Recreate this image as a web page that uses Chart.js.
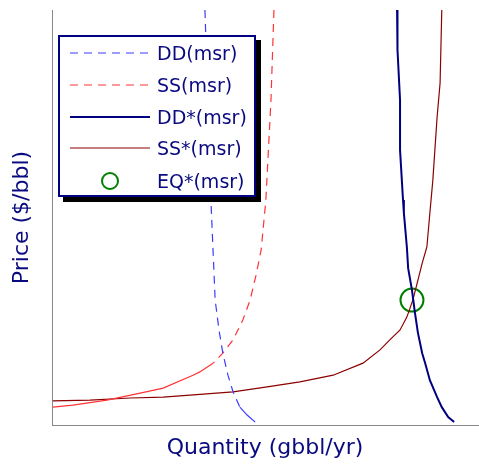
<!DOCTYPE html>
<html>
<head>
<meta charset="utf-8">
<script src="https://cdn.jsdelivr.net/npm/chart.js@4"></script>
<style>
  html, body { margin: 0; padding: 0; background: #fff; }
  #wrap { position: relative; width: 479px; height: 466px; }
  #legend {
    position: absolute; left: 58px; top: 35px; width: 194px; height: 158px;
    border: 2px solid #000080; background: #fff; box-shadow: 5px 5px 0 #000;
    font-family: "DejaVu Sans", sans-serif; font-size: 19px; color: #0a0a80;
  }
  .row { position: absolute; left: 0; height: 32px; width: 194px; }
  .row .txt { position: absolute; left: 97px; top: 50%; transform: translateY(-50%); white-space: nowrap; line-height: 1; }
  .row svg { position: absolute; left: 10px; top: 0; }
</style>
</head>
<body>
<div id="wrap">
  <canvas id="c" width="479" height="466"></canvas>
  <div id="legend"></div>
</div>
<script>
// Data (Quantity index 0-100, Price index 0-100)
const ddQ = [35.9, 36.6, 37.3, 38.3, 39.2, 40.1, 41.3, 42.5, 44.1, 45.8, 47.7];
const ddP = [100, 78.3, 54.2, 30.1, 22.9, 17.3, 12.0, 8.0, 4.3, 2.4, 0.7];

const ssQ = [52.1, 51.4, 50.2, 49.1, 47.9, 46.5, 44.8, 42.5, 40.1, 37.8, 34.7, 33.1, 26.1, 20.7, 12.9, 4.9, 0.2];
const ssP = [100, 78.3, 54.2, 42.2, 36.1, 30.1, 25.3, 20.5, 17.3, 14.9, 12.8, 12.0, 8.9, 7.7, 6.0, 4.8, 4.3];

const ddStarQ = [81.0, 81.0, 81.2, 81.7, 81.7, 82.4, 82.6, 83.3, 83.6, 84.5, 85.2, 85.9, 86.9, 87.6, 88.7, 90.4, 91.5, 93.0, 94.4];
const ddStarP = [100, 95.2, 90.4, 78.3, 66.3, 54.2, 51.1, 42.9, 37.8, 32.5, 27.0, 22.2, 17.3, 14.9, 10.8, 6.7, 4.3, 1.9, 0.7];

const ssStarQ = [91.5, 91.1, 90.4, 89.4, 88.7, 88.0, 86.9, 85.9, 84.7, 83.3, 81.7, 79.3, 77.0, 73.0, 66.0, 58.2, 50.5, 42.5, 32.4, 26.1, 18.3, 8.9, 0.2];
const ssStarP = [100, 82.4, 74.2, 59.0, 51.1, 42.9, 39.0, 34.9, 30.1, 26.0, 22.9, 20.5, 18.1, 14.9, 12.0, 10.4, 9.2, 8.0, 7.2, 6.7, 6.5, 6.0, 5.8];

const eqQ = [84.5];
const eqP = [30.1];

const seriesLabels = ["DD(msr)", "SS(msr)", "DD*(msr)", "SS*(msr)", "EQ*(msr)"];
const axisTitles = { x: "Quantity (gbbl/yr)", y: "Price ($/bbl)" };

const pts = (xs, ys) => xs.map((x, i) => ({ x: x, y: ys[i] }));
const TXT = '#0a0a80';
const FONT = "'DejaVu Sans', sans-serif";

// solidBelow: the dashed curves were drawn from dense points in the original, so their
// lower part looks solid; below this price the segment is drawn solid.
const styles = [
  { color: '#3c3cff', width: 1.2, dash: [8, 6], solidBelow: 7.5 },
  { color: '#ff3333', width: 1.2, dash: [8, 6], solidBelow: 16 },
  { color: '#000080', width: 2, dash: [] },
  { color: '#8b0000', width: 1.2, dash: [] },
  { color: '#008000', width: 2, dash: [], point: true }
];

const lineDs = (label, data, s) => {
  const ds = {
    label: label, data: data, showLine: true, borderColor: s.color, borderWidth: s.width,
    borderDash: s.dash, pointRadius: 0, pointHoverRadius: 0, fill: false, tension: 0
  };
  if (s.solidBelow !== undefined) {
    ds.segment = { borderDash: ctx => (ctx.p0.parsed.y < s.solidBelow ? [] : s.dash) };
  }
  return ds;
};

const chart = new Chart(document.getElementById('c'), {
  type: 'scatter',
  data: {
    datasets: [
      lineDs(seriesLabels[0], pts(ddQ, ddP), styles[0]),
      lineDs(seriesLabels[1], pts(ssQ, ssP), styles[1]),
      lineDs(seriesLabels[2], pts(ddStarQ, ddStarP), styles[2]),
      lineDs(seriesLabels[3], pts(ssStarQ, ssStarP), styles[3]),
      {
        label: seriesLabels[4], data: pts(eqQ, eqP), showLine: false,
        pointRadius: 11.5, pointBorderWidth: 2, pointBorderColor: '#008000',
        pointBackgroundColor: 'rgba(0,0,0,0)', pointHoverRadius: 11.5
      }
    ]
  },
  options: {
    responsive: false, animation: false, devicePixelRatio: 1,
    layout: { autoPadding: false, padding: { top: 10, right: 1, left: 0, bottom: 0 } },
    plugins: { legend: { display: false }, tooltip: { enabled: false } },
    scales: {
      x: {
        type: 'linear', min: 0, max: 100,
        grid: { display: false }, ticks: { display: false },
        border: { display: true, color: '#888', width: 1 },
        title: { display: true, text: axisTitles.x, color: TXT, font: { family: FONT, size: 22 }, padding: { top: 0, bottom: 5 } },
        afterFit: s => { s.height = 41; }
      },
      y: {
        type: 'linear', min: 0, max: 100,
        grid: { display: false }, ticks: { display: false },
        border: { display: true, color: '#888', width: 1 },
        title: { display: true, text: axisTitles.y, color: TXT, font: { family: FONT, size: 22 }, padding: { top: 9, bottom: 0 } },
        afterFit: s => { s.width = 52; }
      }
    }
  }
});

// HTML legend built from the dataset labels
const legend = document.getElementById('legend');
const rowCenters = [16, 48, 80, 111, 144];
chart.data.datasets.forEach((ds, i) => {
  const s = styles[i];
  const row = document.createElement('div');
  row.className = 'row';
  row.style.top = (rowCenters[i] - 16) + 'px';
  let sample;
  if (s.point) {
    sample = `<svg width="82" height="32"><circle cx="40" cy="16" r="8" fill="none" stroke="${s.color}" stroke-width="2"/></svg>`;
  } else {
    sample = `<svg width="82" height="32"><line x1="0" y1="16" x2="80" y2="16" stroke="${s.color}" stroke-width="${s.width}" stroke-dasharray="${s.dash.join(' ')}"/></svg>`;
  }
  row.innerHTML = sample + `<span class="txt">${ds.label}</span>`;
  legend.appendChild(row);
});
</script>
</body>
</html>
